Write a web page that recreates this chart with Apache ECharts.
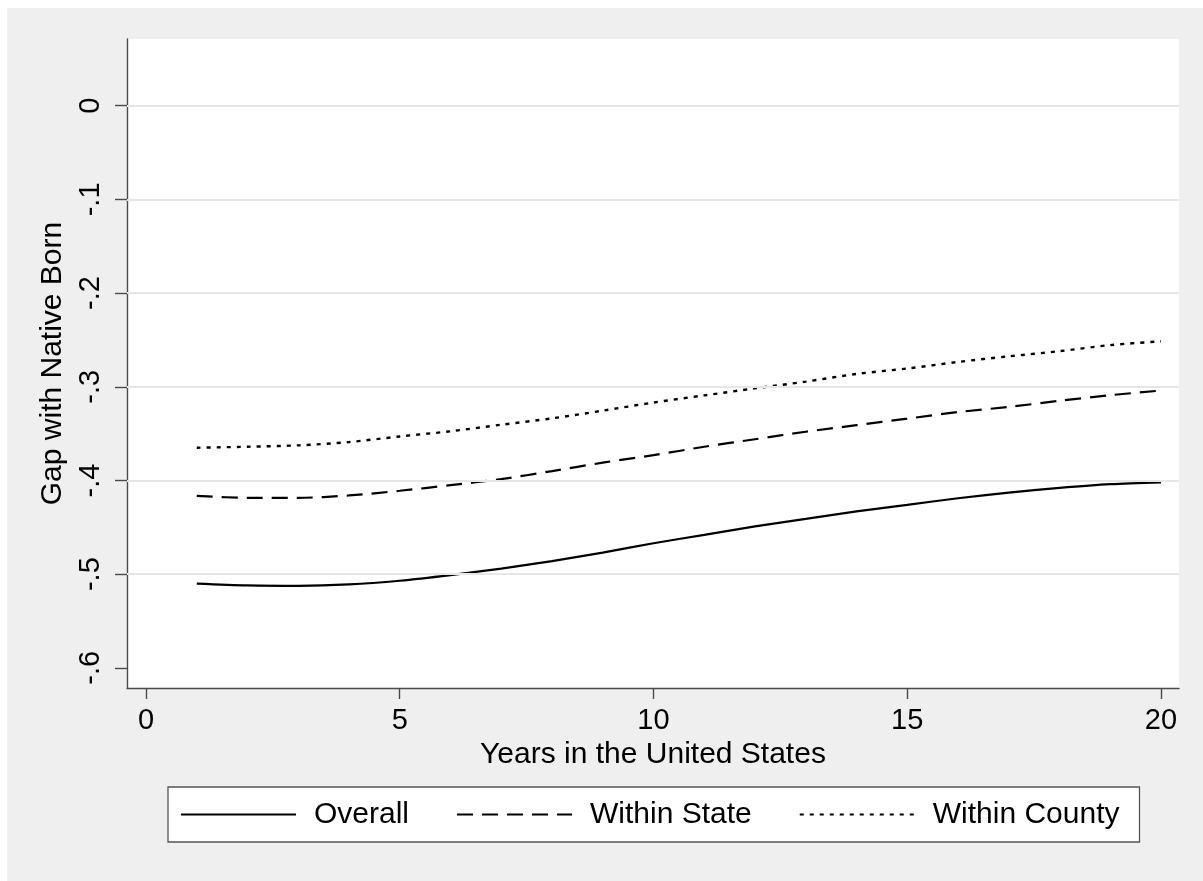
<!DOCTYPE html>
<html>
<head>
<meta charset="utf-8">
<script src="https://cdn.jsdelivr.net/npm/echarts@6/dist/echarts.min.js"></script>
<style>
  html, body { margin: 0; padding: 0; background: #ffffff; }
  #chart { position: absolute; left: 7px; top: 8px; width: 1196px; height: 873px; }
</style>
</head>
<body>
<div id="chart"></div>
<script>
// Years since arrival
const years = [1, 2, 3, 4, 5, 6, 7, 8, 9, 10, 11, 12, 13, 14, 15, 16, 17, 18, 19, 20];

// Gap with native born, by comparison group
const overall = [-0.510, -0.512, -0.5125, -0.511, -0.507, -0.501, -0.494, -0.486, -0.477, -0.467,
                 -0.458, -0.449, -0.441, -0.433, -0.426, -0.419, -0.413, -0.408, -0.404, -0.402];
const withinState = [-0.4165, -0.4185, -0.4185, -0.416, -0.411, -0.405, -0.3985, -0.390, -0.381, -0.373,
                     -0.364, -0.356, -0.348, -0.341, -0.334, -0.327, -0.3215, -0.315, -0.309, -0.304];
const withinCounty = [-0.365, -0.364, -0.3625, -0.359, -0.353, -0.3475, -0.3405, -0.3337, -0.3255, -0.3168,
                      -0.3092, -0.3017, -0.2945, -0.2863, -0.2805, -0.2735, -0.2675, -0.262, -0.2555, -0.2515];

const seriesNames = ['Overall', 'Within State', 'Within County'];

// Axis ticks and labels
const xTicks = [0, 5, 10, 15, 20];
const yTicks = [0, -0.1, -0.2, -0.3, -0.4, -0.5, -0.6];
const yTickLabels = ['0', '-.1', '-.2', '-.3', '-.4', '-.5', '-.6'];
const yGridValues = [0, -0.1, -0.2, -0.3, -0.4, -0.5];

const FONT = '"Liberation Sans", Arial, sans-serif';
const AXIS_COLOR = '#4a4a4a';

function pairs(ys) {
  return years.map((x, i) => [x, ys[i]]);
}

const chart = echarts.init(document.getElementById('chart'), null, { renderer: 'canvas' });

const lineBase = {
  type: 'line',
  symbol: 'none',
  smooth: 0.3,
  z: 3,
  color: '#000000'
};

chart.setOption({
  backgroundColor: '#efefef',
  animation: false,
  textStyle: { fontFamily: FONT },
  grid: {
    left: 120, top: 31, right: 24, bottom: 193,
    show: true, backgroundColor: '#ffffff', borderWidth: 0
  },
  xAxis: {
    type: 'value',
    min: -0.3744, max: 20.355,
    name: 'Years in the United States',
    nameLocation: 'middle',
    nameGap: 45,
    nameTextStyle: { fontSize: 30, color: '#000', fontFamily: FONT },
    axisLine: { show: true, onZero: false, lineStyle: { color: AXIS_COLOR, width: 1.4 } },
    axisTick: { show: true, customValues: xTicks, length: 11, lineStyle: { color: AXIS_COLOR, width: 1.4 } },
    axisLabel: { customValues: xTicks, fontSize: 29, color: '#000', margin: 18, fontFamily: FONT },
    splitLine: { show: false }
  },
  yAxis: {
    type: 'value',
    min: -0.6215, max: 0.0712,
    name: 'Gap with Native Born',
    nameLocation: 'middle',
    nameRotate: 90,
    nameGap: 47,
    nameTextStyle: { fontSize: 30, color: '#000', fontFamily: FONT },
    axisLine: { show: true, onZero: false, lineStyle: { color: AXIS_COLOR, width: 1.4 } },
    axisTick: { show: true, customValues: yTicks, length: 12, lineStyle: { color: AXIS_COLOR, width: 1.4 } },
    axisLabel: {
      customValues: yTicks,
      rotate: 90,
      fontSize: 29, color: '#000', margin: 22, fontFamily: FONT,
      formatter: function (v) {
        const i = yTicks.findIndex(t => Math.abs(t - v) < 1e-9);
        return i >= 0 ? yTickLabels[i] : '';
      }
    },
    splitLine: { show: false }
  },
  legend: {
    data: seriesNames,
    left: 161, top: 779,
    orient: 'horizontal',
    backgroundColor: '#ffffff',
    borderColor: '#555555',
    borderWidth: 1.3,
    padding: [12, 20, 12, 12],
    itemWidth: 115,
    itemHeight: 30,
    itemGap: 47,
    itemStyle: { color: 'rgba(0,0,0,0)', borderWidth: 0, opacity: 0 },
    textStyle: { fontSize: 30, color: '#000', fontFamily: FONT, padding: [0, 0, 0, 13], lineHeight: 31 }
  },
  series: [
    {
      // horizontal grid lines
      type: 'line',
      name: 'grid',
      data: [],
      z: 1,
      silent: true,
      markLine: {
        silent: true,
        symbol: ['none', 'none'],
        label: { show: false },
        lineStyle: { color: '#e6e6e6', width: 2, type: 'solid' },
        data: yGridValues.map(v => ({ yAxis: v }))
      }
    },
    Object.assign({}, lineBase, {
      name: seriesNames[0],
      data: pairs(overall),
      lineStyle: { color: '#000', width: 2.2, type: 'solid' }
    }),
    Object.assign({}, lineBase, {
      name: seriesNames[1],
      data: pairs(withinState),
      lineStyle: { color: '#000', width: 2.2, type: [16, 9] }
    }),
    Object.assign({}, lineBase, {
      name: seriesNames[2],
      data: pairs(withinCounty),
      lineStyle: { color: '#000', width: 2.4, type: [4, 6] }
    })
  ]
});
</script>
</body>
</html>
